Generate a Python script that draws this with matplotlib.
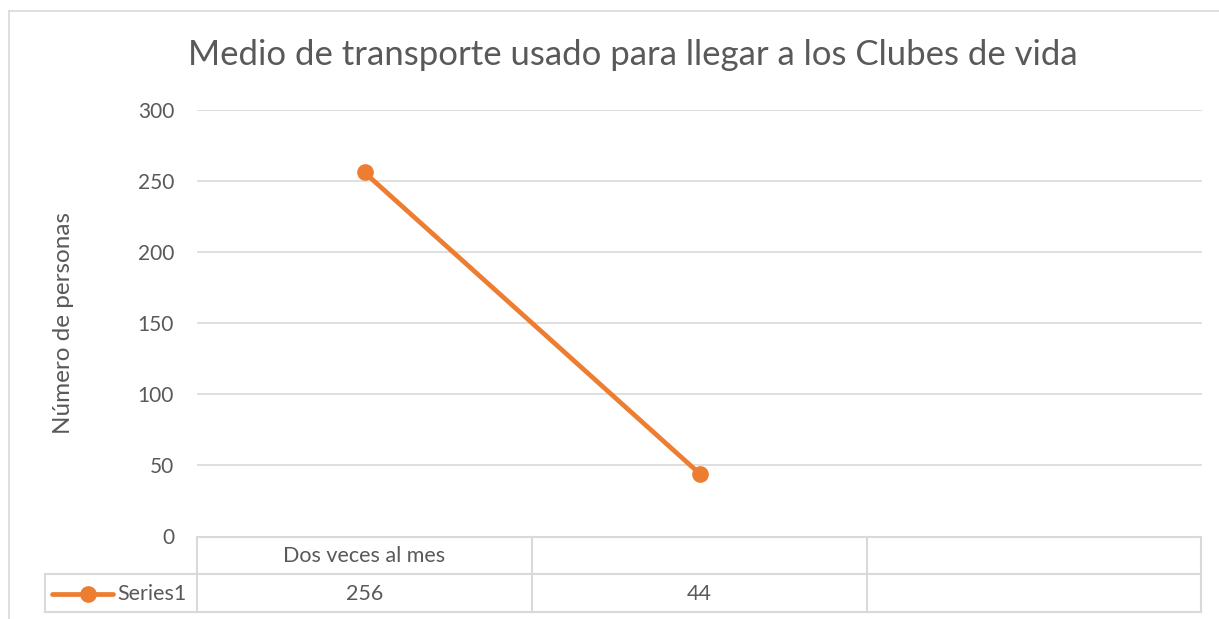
import matplotlib
matplotlib.use("Agg")
import matplotlib.pyplot as plt
from matplotlib.lines import Line2D
import numpy as np

categories = ["Dos veces al mes", "", ""]
series_name = "Series1"
values = [256, 44, np.nan]
yticks = [0, 50, 100, 150, 200, 250, 300]
title = "Medio de transporte usado para llegar a los Clubes de vida"
ylabel = "Número de personas"

W, H = 1219, 619
plt.rcParams['font.family'] = ['Lato', 'DejaVu Sans']
TXT = '#595959'
GRID = '#D9D9D9'
ORANGE = '#ED7D31'

fig = plt.figure(figsize=(W / 100, H / 100), dpi=100)

def fx(px):
    return px / W

def fy(py):
    return 1 - py / H

ax = fig.add_axes([fx(197), fy(536), fx(1202) - fx(197), fy(110) - fy(536)])
x = np.arange(len(categories))
ax.plot(x, values, color=ORANGE, lw=3.4, marker='o', markersize=11, solid_capstyle='round', zorder=3)
ax.set_xlim(-0.5, len(categories) - 0.5)
ax.set_ylim(0, 300)
ax.set_yticks(yticks)
ax.set_yticklabels([str(t) for t in yticks], fontsize=15, color=TXT)
ax.tick_params(axis='y', length=0, pad=16.5)
ax.set_xticks([])
for s in ax.spines.values():
    s.set_visible(False)
for t in yticks[1:]:
    ax.axhline(t, color=GRID, lw=1.2, zorder=1)

# title and y label
fig.text(fx(633), fy(55), title, ha='center', va='center', fontsize=25, color=TXT)
fig.text(fx(63), fy(323), ylabel, ha='center', va='center', rotation=90, fontsize=17.5, color=TXT)

# outer chart border
fig.add_artist(Line2D([fx(9), fx(9)], [fy(11), fy(619)], color=GRID, lw=1.2))
fig.add_artist(Line2D([fx(9), fx(1219)], [fy(11), fy(11)], color=GRID, lw=1.2))

# data table
col_edges = [197, 532, 867, 1201]
def hline(y, x0, x1):
    fig.add_artist(Line2D([fx(x0), fx(x1)], [fy(y), fy(y)], color=GRID, lw=1.5))
def vline(xp, y0, y1):
    fig.add_artist(Line2D([fx(xp), fx(xp)], [fy(y0), fy(y1)], color=GRID, lw=1.5))

hline(537, 197, 1201)
hline(574, 45, 1201)
hline(612, 45, 1201)
vline(45, 574, 612)
for xe in col_edges:
    vline(xe, 537, 612)

tr = matplotlib.transforms.blended_transform_factory(ax.transData, fig.transFigure)
for i, c in enumerate(categories):
    ax.text(i, fy(556), c, transform=tr, ha='center', va='center', fontsize=15.5, color=TXT)
    v = values[i]
    if not np.isnan(v):
        ax.text(i, fy(594), f"{v:g}", transform=tr, ha='center', va='center', fontsize=15.5, color=TXT)

# legend key in table
fig.add_artist(Line2D([fx(52), fx(113)], [fy(594), fy(594)], color=ORANGE, lw=3.4,
                      marker=None, solid_capstyle='round'))
fig.add_artist(Line2D([fx(88)], [fy(594)], color=ORANGE, marker='o', markersize=11, lw=0))
fig.text(fx(117), fy(594), series_name, ha='left', va='center', fontsize=15.5, color=TXT)

fig.savefig("out.png", dpi=100)
